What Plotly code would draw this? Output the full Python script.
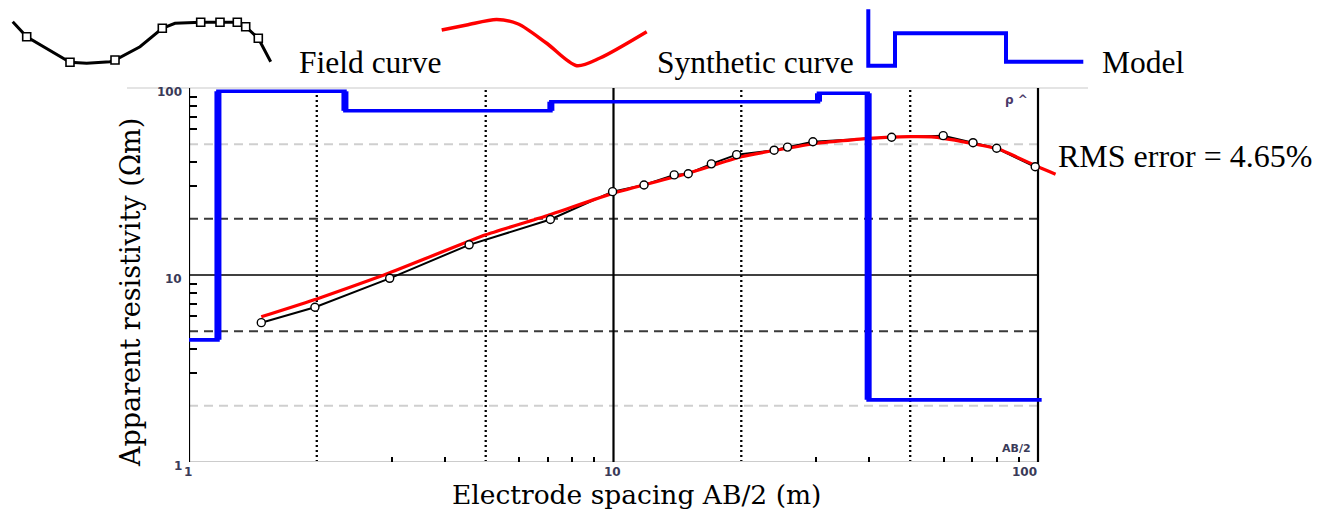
import numpy as np
import plotly.graph_objects as go

W, H = 1334, 510

# ---------------- data ----------------
# field (observed) apparent resistivity curve
field_ab2 = [1.48, 1.98, 2.97, 4.57, 7.1, 9.95, 11.8, 13.9, 15.0, 17.0, 19.5,
             23.9, 25.7, 29.5, 45.2, 59.8, 70.3, 79.9, 98.5]
field_rho = [5.56, 6.72, 9.60, 14.5, 19.8, 27.9, 30.3, 34.3, 34.8, 39.3, 44.0,
             46.5, 48.3, 51.6, 54.5, 55.6, 51.0, 47.6, 37.9]

# synthetic (model response) curve
synthetic_ab2 = [1.48, 2.0, 2.88, 5.0, 7.0, 10.0, 15.0, 20.0, 30.0, 40.0, 50.0,
                 57.0, 71.0, 81.0, 100.0, 110.0]
synthetic_rho = [5.98, 7.45, 10.0, 16.4, 20.8, 27.4, 35.0, 42.9, 50.5, 53.8, 54.9,
                 54.6, 50.2, 47.0, 37.9, 34.6]

# layered model: layer boundaries (AB/2, m) and layer resistivities (Ohm m)
model_bounds = [1.0, 1.17, 2.33, 7.12, 30.4, 39.8, 102.0]
model_rho = [4.5, 96.0, 75.5, 84.5, 93.7, 2.15]

# axis ticks / grid
x_tick_vals = [1, 10, 100]
x_tick_text = ["1", "10", "100"]
y_tick_vals = [1, 10, 100]
y_tick_text = ["1", "10", "100"]
x_minor = [3, 4, 6, 7, 8, 9, 30, 40, 60, 70, 80, 90]
y_minor = [3, 4, 6, 7, 8, 9, 30, 40, 60, 70, 80, 90]
x_grid_dotted = [2, 5, 20, 50]
x_grid_solid = [1, 10, 100]
y_grid_dash_dark = [5, 20]
y_grid_dash_light = [2, 50]
y_grid_solid = [10]

# legend glyphs (drawn in a pixel-space overlay)
field_icon_line_x = [12.7, 26.7, 70, 86.7, 110, 115, 140, 162.3, 175, 200.7, 220, 237.3, 245.7, 258.3, 270.7]
field_icon_line_y = [21.7, 36.7, 62.3, 63.3, 61.7, 60, 46.7, 28.3, 23.3, 22.3, 22.3, 22.3, 26.7, 38.3, 61.7]
field_icon_mark_x = [26.7, 70, 115, 162.3, 200.7, 220, 237.3, 245.7, 258.3]
field_icon_mark_y = [36.7, 62.3, 60, 28.3, 22.3, 22.3, 22.3, 26.7, 38.3]
synth_icon_x = [441.7, 466.7, 496.7, 518.3, 546.7, 576.7, 600, 646.7]
synth_icon_y = [30.0, 25.0, 19.5, 24.0, 43.3, 65.7, 58.0, 31.7]
model_icon_x = [868.3, 868.3, 895, 895, 1006, 1006, 1083.3]
model_icon_y = [9.3, 65.7, 65.7, 33.3, 33.3, 61.7, 61.7]

# ---------------- geometry ----------------
PL, PR, PT, PB = 189, 1059, 88, 462          # plot area in pixels
x_max_log = 2.0 * (PR - PL) / (1038 - PL)     # x=100 sits at pixel 1038


def px(x):
    return x / W


def py(y):
    return 1 - y / H


fig = go.Figure()

# step-model line built from the layer arrays
mx, my = [], []
for i, r in enumerate(model_rho):
    mx += [model_bounds[i], model_bounds[i + 1]]
    my += [r, r]
vx, vy = [], []
for i in range(1, len(model_rho)):
    vx += [model_bounds[i], model_bounds[i], None]
    vy += [model_rho[i - 1], model_rho[i], None]

fig.add_trace(go.Scatter(x=field_ab2, y=field_rho, mode="lines",
                         line=dict(color="black", width=2), hoverinfo="skip"))
fig.add_trace(go.Scatter(x=synthetic_ab2, y=synthetic_rho, mode="lines",
                         line=dict(color="#ff0000", width=3.2, shape="spline", smoothing=0.4),
                         hoverinfo="skip"))
fig.add_trace(go.Scatter(x=field_ab2, y=field_rho, mode="markers",
                         marker=dict(symbol="circle", size=8, color="white",
                                     line=dict(color="black", width=1.4)),
                         hoverinfo="skip"))
fig.add_trace(go.Scatter(x=mx, y=my, mode="lines",
                         line=dict(color="#0000ff", width=3.6), hoverinfo="skip"))
fig.add_trace(go.Scatter(x=vx, y=vy, mode="lines",
                         line=dict(color="#0000ff", width=7), hoverinfo="skip"))

# legend glyph traces in pixel overlay
fig.add_trace(go.Scatter(x=field_icon_line_x, y=field_icon_line_y, mode="lines",
                         line=dict(color="black", width=3), xaxis="x2", yaxis="y2", hoverinfo="skip"))
fig.add_trace(go.Scatter(x=field_icon_mark_x, y=field_icon_mark_y, mode="markers",
                         marker=dict(symbol="square", size=8, color="white",
                                     line=dict(color="black", width=1.6)),
                         xaxis="x2", yaxis="y2", hoverinfo="skip"))
fig.add_trace(go.Scatter(x=synth_icon_x, y=synth_icon_y, mode="lines",
                         line=dict(color="#ff0000", width=3.5, shape="spline", smoothing=0.8),
                         xaxis="x2", yaxis="y2", hoverinfo="skip"))
fig.add_trace(go.Scatter(x=model_icon_x, y=model_icon_y, mode="lines",
                         line=dict(color="#0000ff", width=4), xaxis="x2", yaxis="y2", hoverinfo="skip"))

# ---------------- grid & frame shapes (data values on log axes) ----------------
shapes = []
xa, xb = 1, 100
ya, yb = 1, 100
for v in y_grid_dash_light:
    shapes.append(dict(type="line", xref="x", yref="y", x0=xa, x1=xb, y0=v, y1=v,
                       line=dict(color="#cfcfcf", width=2, dash="9px,6px"), layer="below"))
for v in y_grid_dash_dark:
    shapes.append(dict(type="line", xref="x", yref="y", x0=xa, x1=xb, y0=v, y1=v,
                       line=dict(color="#3a3a3a", width=2, dash="9px,6px"), layer="below"))
for v in y_grid_solid:
    shapes.append(dict(type="line", xref="x", yref="y", x0=xa, x1=xb, y0=v, y1=v,
                       line=dict(color="black", width=1.6), layer="below"))
for v in x_grid_dotted:
    shapes.append(dict(type="line", xref="x", yref="y", x0=v, x1=v, y0=ya, y1=yb,
                       line=dict(color="black", width=2.3, dash="2px,3px"), layer="below"))
# frame: light top/bottom, black left/right and x=10
shapes.append(dict(type="line", xref="paper", yref="paper", x0=px(127), x1=px(1088), y0=py(PT), y1=py(PT),
                   line=dict(color="#e4e4e4", width=2), layer="below"))
shapes.append(dict(type="line", xref="x", yref="y", x0=xa, x1=xb, y0=ya, y1=ya,
                   line=dict(color="#cccccc", width=2), layer="below"))
for v in x_grid_solid:
    shapes.append(dict(type="line", xref="x", yref="y", x0=v, x1=v, y0=ya, y1=yb,
                       line=dict(color="black", width=2.2), layer="below"))

# ---------------- annotations ----------------
serif = "Liberation Serif"
title_font = "DejaVu Serif"
ann = []
ann.append(dict(text="Field curve", x=px(297), y=py(62), xanchor="left", yanchor="middle"))
ann.append(dict(text="Synthetic curve", x=px(655), y=py(62), xanchor="left", yanchor="middle"))
ann.append(dict(text="Model", x=px(1100), y=py(62), xanchor="left", yanchor="middle"))
for a in ann:
    a.update(xref="paper", yref="paper", showarrow=False, font=dict(family=serif, size=31.5, color="black"))
ann.append(dict(text="RMS error = 4.65%", x=px(1056), y=py(156), xanchor="left", yanchor="middle",
                xref="paper", yref="paper", showarrow=False, font=dict(family=serif, size=32, color="black")))
ann.append(dict(text="Electrode spacing AB/2 (m)", x=px(636), y=py(494.5), xanchor="center", yanchor="middle",
                xref="paper", yref="paper", showarrow=False, borderpad=0,
                font=dict(family=title_font, size=26.5, color="black")))
ann.append(dict(text="Apparent resistivity (Ωm)", x=px(130), y=py(293), xanchor="center", yanchor="middle",
                textangle=-90, xref="paper", yref="paper", showarrow=False, borderpad=0,
                font=dict(family=title_font, size=27, color="black")))
tick_font = dict(family="DejaVu Sans", size=12, color="#3a3a58")
for v, t in zip(x_tick_vals, x_tick_text):
    anchor = "right" if v == x_tick_vals[-1] else "center"
    shift = 0 if v == x_tick_vals[-1] else -1
    ann.append(dict(text="<b>" + t + "</b>", x=np.log10(v), xref="x", y=py(PB + 2), yref="paper",
                    xanchor=anchor, yanchor="top", xshift=shift, showarrow=False, font=tick_font,
                    borderpad=0))
for v, t in zip(y_tick_vals, y_tick_text):
    ann.append(dict(text="<b>" + t + "</b>", x=px(PL - 6), xref="paper", y=np.log10(v), yref="y",
                    xanchor="right", yanchor="middle", yshift=-4, showarrow=False, font=tick_font,
                    borderpad=0))
ann.append(dict(text="<b>ρ ^</b>", x=px(1016), y=py(100), xref="paper", yref="paper", xanchor="center",
                yanchor="middle", showarrow=False, font=dict(family="DejaVu Sans", size=12, color="#4a3a6a")))
ann.append(dict(text="<b>AB/2</b>", x=px(1033), y=py(448), xref="paper", yref="paper", xanchor="right",
                yanchor="middle", showarrow=False, font=dict(family="DejaVu Sans", size=11, color="#3a3a58")))

fig.update_layout(
    width=W, height=H,
    margin=dict(l=0, r=0, t=0, b=0, pad=0),
    paper_bgcolor="white", plot_bgcolor="rgba(0,0,0,0)",
    showlegend=False,
    shapes=shapes, annotations=ann,
    xaxis=dict(type="log", range=[0, x_max_log], domain=[PL / W, PR / W], anchor="y",
               showgrid=False, zeroline=False, showline=False, showticklabels=False,
               tickvals=x_tick_vals, ticks="",
               minor=dict(tickmode="array", tickvals=x_minor, ticks="inside", ticklen=5,
                          tickwidth=2, tickcolor="black", showgrid=False)),
    yaxis=dict(type="log", range=[0, 2], domain=[1 - PB / H, 1 - PT / H], anchor="x",
               showgrid=False, zeroline=False, showline=False, showticklabels=False,
               tickvals=y_tick_vals, ticks="",
               minor=dict(tickmode="array", tickvals=y_minor, ticks="inside", ticklen=8,
                          tickwidth=2, tickcolor="black", showgrid=False)),
    xaxis2=dict(range=[0, W], domain=[0, 1], anchor="y2", visible=False, fixedrange=True),
    yaxis2=dict(range=[H, 0], domain=[0, 1], anchor="x2", visible=False, fixedrange=True),
)

fig.write_html("out.html")
